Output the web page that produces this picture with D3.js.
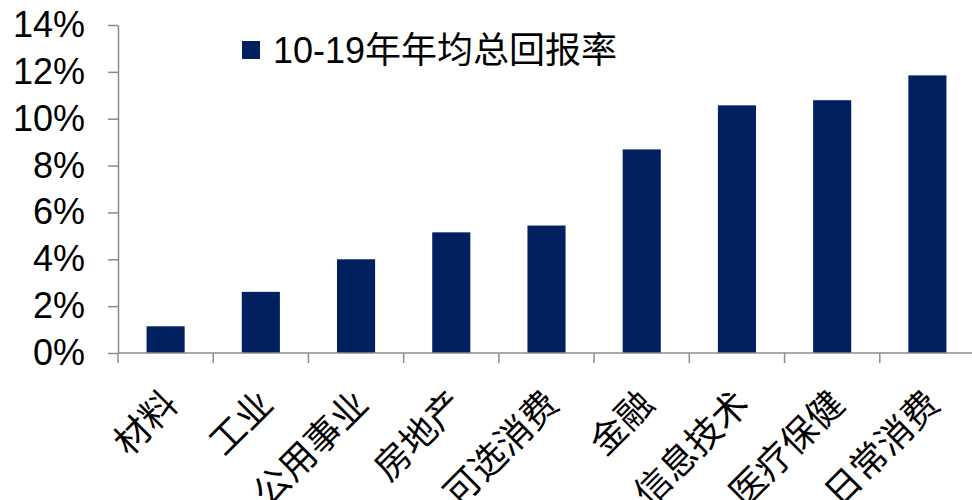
<!DOCTYPE html>
<html>
<head>
<meta charset="utf-8">
<script src="https://cdn.jsdelivr.net/npm/d3@7/dist/d3.min.js"></script>
<style>
  html, body { margin: 0; padding: 0; background: #fff; }
  svg { display: block; }
</style>
</head>
<body>
<svg id="chart" width="972" height="500"></svg>
<script>
// Sector average annual total return, 2010-2019
const categories = ["材料", "工业", "公用事业", "房地产", "可选消费", "金融", "信息技术", "医疗保健", "日常消费"];
const returns = [0.0114, 0.0261, 0.0400, 0.0515, 0.0544, 0.0869, 0.1057, 0.1079, 0.1185];
const yTicks = [0, 0.02, 0.04, 0.06, 0.08, 0.10, 0.12, 0.14];
const seriesName = "10-19年年均总回报率";

const latin = "'Liberation Sans', Arial, sans-serif";
const cjk = "'Noto Sans CJK SC', 'Noto Sans', sans-serif";
const barColor = "#002060";
const axisColor = "#8c8c8c";

const svg = d3.select("#chart");

const x = d3.scaleBand().domain(categories).range([118, 975]).padding(0);
const y = d3.scaleLinear().domain([0, 0.14]).range([353, 25]);
const barWidth = x.bandwidth() * 0.4;

// Bars
svg.append("g").selectAll("rect")
  .data(categories.map((c, i) => ({ c, v: returns[i] })))
  .join("rect")
  .attr("x", d => x(d.c) + (x.bandwidth() - barWidth) / 2)
  .attr("y", d => y(d.v))
  .attr("width", barWidth)
  .attr("height", d => y(0) - y(d.v))
  .attr("fill", barColor);

// Y axis
const yAxis = svg.append("g")
  .attr("transform", `translate(${x.range()[0]},0)`)
  .call(d3.axisLeft(y).tickValues(yTicks).tickFormat(d3.format(".0%")).tickSize(10).tickSizeOuter(0).tickPadding(23));
yAxis.select(".domain").attr("stroke", axisColor).attr("stroke-width", 1.5);
yAxis.selectAll(".tick line").attr("stroke", axisColor).attr("stroke-width", 1.5);
yAxis.selectAll(".tick text")
  .attr("font-family", latin).attr("font-size", 36).attr("fill", "#000");

// X axis line with ticks on category boundaries
const xAxis = svg.append("g").attr("transform", `translate(0,${y(0)})`);
xAxis.append("line")
  .attr("x1", x.range()[0]).attr("x2", x.range()[1])
  .attr("stroke", axisColor).attr("stroke-width", 1.5);
const bounds = categories.map(c => x(c)).concat([x(categories[categories.length - 1]) + x.bandwidth()]);
xAxis.selectAll("line.bound")
  .data(bounds)
  .join("line")
  .attr("class", "bound")
  .attr("x1", d => d).attr("x2", d => d)
  .attr("y1", 0).attr("y2", 10)
  .attr("stroke", axisColor).attr("stroke-width", 1.5);

// Category labels, rotated
svg.append("g").selectAll("text")
  .data(categories)
  .join("text")
  .attr("transform", d => `translate(${x(d) + x.bandwidth() / 2 + 3},395) rotate(-45)`)
  .attr("text-anchor", "end")
  .attr("dominant-baseline", "central")
  .attr("font-family", cjk)
  .attr("font-size", 36)
  .attr("fill", "#000")
  .text(d => d);

// Legend
const legend = svg.append("g").attr("transform", "translate(242,41)");
legend.append("rect").attr("width", 18).attr("height", 18).attr("fill", barColor);
legend.append("text")
  .attr("x", 31).attr("y", 22)
  .attr("font-size", 36).attr("fill", "#000")
  .call(t => {
    t.append("tspan").attr("font-family", latin).text(seriesName.slice(0, 5));
    t.append("tspan").attr("font-family", cjk).text(seriesName.slice(5));
  });
</script>
</body>
</html>
